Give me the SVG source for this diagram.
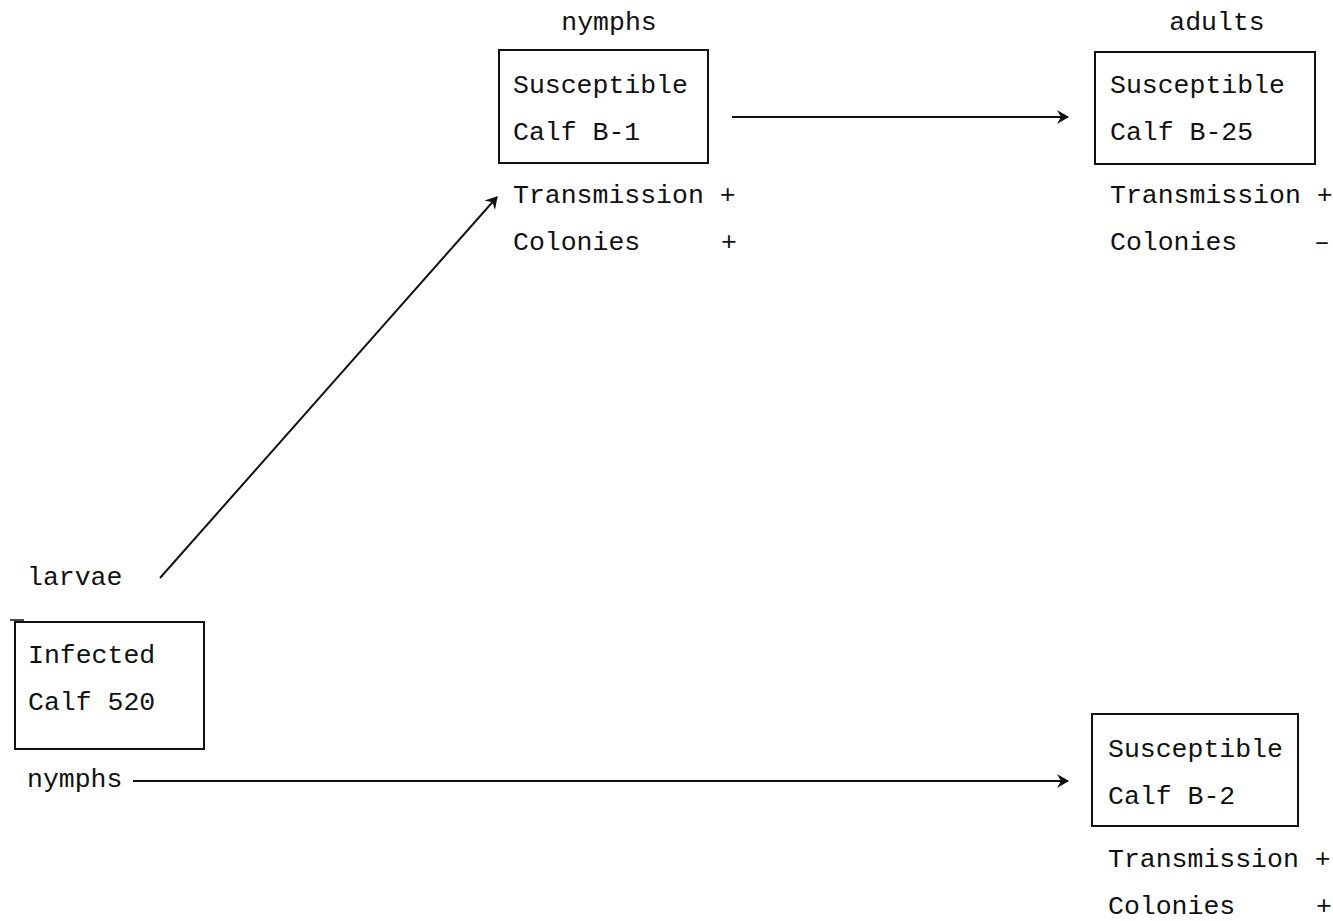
<svg xmlns="http://www.w3.org/2000/svg" width="1333" height="921" viewBox="0 0 1333 921">
<defs>
<style>
text{font-family:"Liberation Mono","DejaVu Sans Mono",monospace;font-size:26.5px;fill:#111}
.box{fill:none;stroke:#111;stroke-width:2}
.conn{stroke:#111;stroke-width:2;fill:none}
</style>
<marker id="ah" viewBox="0 0 16 16" refX="14" refY="8" markerWidth="16" markerHeight="16" markerUnits="userSpaceOnUse" orient="auto">
<path d="M3,1 L15,8 L3,15 L7,8 Z" fill="#111"/>
</marker>
</defs>
<rect width="1333" height="921" fill="#fff"/>
<g id="connectors">
<line class="conn" x1="732" y1="117" x2="1068" y2="117" marker-end="url(#ah)"/>
<line class="conn" x1="160" y1="578" x2="497" y2="197" marker-end="url(#ah)"/>
<line class="conn" x1="133" y1="781" x2="1068" y2="781" marker-end="url(#ah)"/>
</g>
<g id="infected520">
<text x="27" y="585">larvae</text>
<rect class="box" x="15" y="622" width="189" height="127"/>
<line x1="10" y1="620" x2="24" y2="620" stroke="#111" stroke-width="1.5"/>
<text x="28" y="663">Infected</text>
<text x="28" y="710">Calf 520</text>
<text x="27" y="787">nymphs</text>
</g>
<g id="calfB1">
<text x="609" y="30" text-anchor="middle">nymphs</text>
<rect class="box" x="499" y="50" width="209" height="113"/>
<text x="513" y="93">Susceptible</text>
<text x="513" y="140">Calf B-1</text>
<text x="513" y="203">Transmission +</text>
<text x="513" y="250">Colonies</text>
<text x="721" y="250">+</text>
</g>
<g id="calfB25">
<text x="1217" y="30" text-anchor="middle">adults</text>
<rect class="box" x="1095" y="52" width="220" height="112"/>
<text x="1110" y="93">Susceptible</text>
<text x="1110" y="140">Calf B-25</text>
<text x="1110" y="203">Transmission +</text>
<text x="1110" y="250">Colonies</text>
<text x="1314" y="250">–</text>
</g>
<g id="calfB2">
<rect class="box" x="1092" y="714" width="206" height="112"/>
<text x="1108" y="757">Susceptible</text>
<text x="1108" y="804">Calf B-2</text>
<text x="1108" y="867">Transmission +</text>
<text x="1108" y="914">Colonies</text>
<text x="1316" y="914">+</text>
</g>
</svg>
